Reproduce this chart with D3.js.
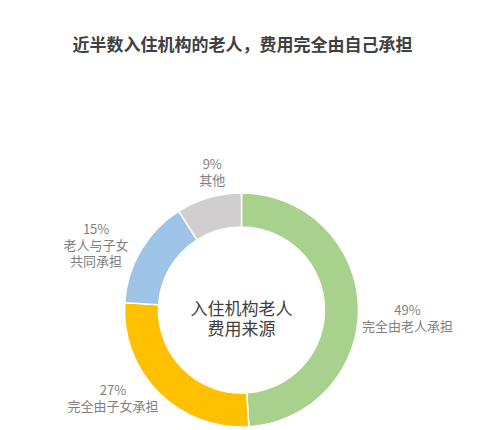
<!DOCTYPE html>
<html>
<head>
<meta charset="utf-8">
<script src="https://cdn.jsdelivr.net/npm/d3@7"></script>
<style>
  html, body { margin: 0; padding: 0; background: #ffffff; }
  svg { display: block; }
</style>
</head>
<body>
<div id="chart"></div>
<script>
// ---- data ----
const categories = ["完全由老人承担", "完全由子女承担", "老人与子女共同承担", "其他"];
const labelLines = [["完全由老人承担"], ["完全由子女承担"], ["老人与子女", "共同承担"], ["其他"]];
const values = [49, 27, 15, 9];
const colors = ["#A9D18E", "#FFC000", "#9DC3E6", "#D0CECE"];
const title = "近半数入住机构的老人，费用完全由自己承担";
const centerLines = ["入住机构老人", "费用来源"];

// ---- layout ----
const W = 500, H = 430;
const cx = 241.5, cy = 310;
const outerR = 117, innerR = 83;
const labelR = 155;
const labelNudge = [[11, 12], [-19, -22], [-12, 13], [14, 10]];
const font = "'Noto Sans CJK SC', 'Microsoft YaHei', sans-serif";

const svg = d3.select("#chart").append("svg")
  .attr("width", W).attr("height", H);

svg.append("rect").attr("width", W).attr("height", H).attr("fill", "#ffffff");

svg.append("text")
  .attr("x", 242.5).attr("y", 43)
  .attr("text-anchor", "middle").attr("dominant-baseline", "central")
  .attr("font-family", font).attr("font-size", 17).attr("font-weight", "bold")
  .attr("fill", "#404040")
  .text(title);

const pie = d3.pie().sort(null).value(d => d)(values);
const arc = d3.arc().innerRadius(innerR).outerRadius(outerR);
const labelArc = d3.arc().innerRadius(labelR).outerRadius(labelR);

const g = svg.append("g").attr("transform", `translate(${cx},${cy})`);

g.selectAll("path.slice").data(pie).join("path")
  .attr("class", "slice")
  .attr("d", arc)
  .attr("fill", (d, i) => colors[i])
  .attr("stroke", "#ffffff")
  .attr("stroke-width", 1.5);

// labels
const lineH = 16;
pie.forEach((d, i) => {
  const [lx, ly] = labelArc.centroid(d);
  const lines = [values[i] + "%"].concat(labelLines[i]);
  const x = lx + labelNudge[i][0];
  const y0 = ly + labelNudge[i][1] - (lines.length - 1) * lineH / 2;
  const t = g.append("text")
    .attr("text-anchor", "middle")
    .attr("font-family", font).attr("font-size", 13)
    .attr("fill", "#7F7F7F");
  lines.forEach((ln, k) => {
    t.append("tspan")
      .attr("x", x).attr("y", y0 + k * lineH)
      .attr("dominant-baseline", "central")
      .text(ln);
  });
});

// center text
centerLines.forEach((ln, k) => {
  g.append("text")
    .attr("x", 0).attr("y", -3 + k * 20)
    .attr("text-anchor", "middle").attr("dominant-baseline", "central")
    .attr("font-family", font).attr("font-size", 17)
    .attr("fill", "#404040")
    .text(ln);
});
</script>
</body>
</html>
